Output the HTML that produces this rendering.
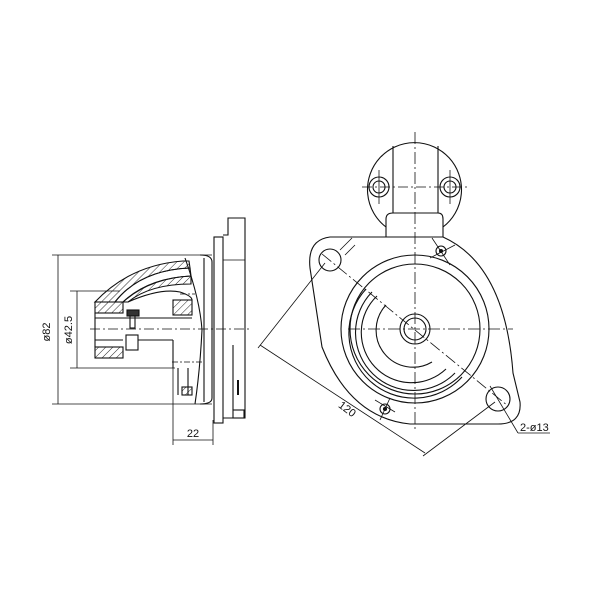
<!DOCTYPE html>
<html><head><meta charset="utf-8"><style>
html,body{margin:0;padding:0;background:#fff}
svg{display:block}
text{font-family:"Liberation Sans",sans-serif;fill:#111}
</style></head><body>
<svg width="600" height="600" viewBox="0 0 600 600" xmlns="http://www.w3.org/2000/svg">
<defs>
<pattern id="h" width="5" height="5" patternUnits="userSpaceOnUse" patternTransform="rotate(45)">
<line x1="0" y1="0" x2="0" y2="5" stroke="#111" stroke-width="0.9"/>
</pattern>
</defs>
<g fill="none" stroke="#111" stroke-width="1.1">
<!-- LEFT VIEW -->
<line x1="52" y1="255" x2="212" y2="255" stroke-width="0.8"/>
<line x1="52" y1="404" x2="212" y2="404" stroke-width="0.8"/>
<line x1="58" y1="255" x2="58" y2="404" stroke-width="0.8"/>
<line x1="70" y1="291" x2="120" y2="291" stroke-width="0.8"/>
<line x1="70" y1="368" x2="175" y2="368" stroke-width="0.8"/>
<line x1="77" y1="291" x2="77" y2="368" stroke-width="0.8"/>
<line x1="173" y1="360" x2="173" y2="445" stroke-width="0.8"/>
<line x1="213" y1="420" x2="213" y2="445" stroke-width="0.8"/>
<line x1="173" y1="440" x2="213" y2="440" stroke-width="0.8"/>
<!-- plate -->
<rect x="214" y="237" width="9" height="186"/>
<path d="M223 235 L228 235 L228 218 L245 218 L245 418 L223 418"/>
<line x1="223" y1="260" x2="245" y2="260" stroke-width="0.8"/>
<line x1="233" y1="345" x2="233" y2="410"/>
<rect x="233" y="410" width="11" height="8"/>
<line x1="238" y1="380" x2="238" y2="395" stroke-width="2"/>
<!-- housing -->
<path d="M200 255 Q212 255 212 262 L212 398 Q212 404 200 404"/>
<path d="M185 258 Q200 300 202 330 Q200 370 195 404"/>
<line x1="204" y1="258" x2="204" y2="402"/>
<!-- nose hatched -->
<path d="M95 302 Q130 265 183 261 L189 261 L190 268 Q140 270 115 302 Z" fill="url(#h)"/>
<path d="M115 302 Q140 270 190 268 L191 276 Q148 278 123 302 Z"/>
<path d="M123 302 Q150 278 191 276 L191 284 Q150 284 128 302 Z" fill="url(#h)"/>
<rect x="95" y="302" width="28" height="11" fill="url(#h)"/>
<path d="M128 302 Q160 288 180 292 Q192 296 192 300"/>
<rect x="173" y="300" width="19" height="15" fill="url(#h)"/>
<rect x="95" y="347" width="28" height="11" fill="url(#h)"/>
<line x1="95" y1="313" x2="95" y2="347"/>
<line x1="95" y1="318" x2="192" y2="318"/>
<line x1="95" y1="340" x2="123" y2="340"/>
<rect x="127" y="310" width="12" height="6" fill="#333"/>
<rect x="130" y="316" width="5" height="12"/>
<rect x="126" y="335" width="12" height="15"/>
<line x1="138" y1="340" x2="173" y2="340"/>
<line x1="173" y1="340" x2="173" y2="368"/>
<line x1="178" y1="368" x2="178" y2="395"/>
<line x1="188" y1="368" x2="188" y2="395"/>
<rect x="182" y="387" width="10" height="8" fill="url(#h)"/>
<line x1="180" y1="294" x2="195" y2="294" stroke-dasharray="6 2 2 2" stroke-width="0.8"/>
<line x1="172" y1="362" x2="202" y2="362" stroke-dasharray="6 2 2 2" stroke-width="0.8"/>
<line x1="90" y1="329" x2="252" y2="329" stroke-dasharray="10 3 2 3" stroke-width="0.8"/>

<!-- RIGHT VIEW -->
<path d="M386 227 A47 47 0 1 1 443 227"/>
<line x1="393" y1="146" x2="393" y2="213"/>
<line x1="438" y1="146" x2="438" y2="213"/>
<line x1="393" y1="213" x2="438" y2="213"/>
<path d="M386 237 L386 219 Q386 213 393 213 L438 213 Q443 213 443 219 L443 237"/>
<circle cx="379" cy="187" r="10"/><circle cx="379" cy="187" r="6"/>
<circle cx="450" cy="187" r="10"/><circle cx="450" cy="187" r="6"/>
<line x1="362" y1="187" x2="468" y2="187" stroke-dasharray="10 3 2 3" stroke-width="0.8"/>
<line x1="379" y1="170" x2="379" y2="204" stroke-width="0.8"/>
<line x1="450" y1="170" x2="450" y2="204" stroke-width="0.8"/>
<line x1="415" y1="132" x2="415" y2="430" stroke-dasharray="12 3 2 3" stroke-width="0.8"/>
<path d="M443 237 Q505 265 513 373 L520 402 Q522 424 498 424 L410 424 Q350 418 322 347 L310 268 Q307 240 330 237 Z"/>
<circle cx="330" cy="260" r="11"/>
<circle cx="498" cy="399" r="12"/>
<circle cx="441" cy="251" r="5"/><circle cx="385" cy="409" r="5"/>
<circle cx="441" cy="251" r="1.5" fill="#111"/><circle cx="385" cy="409" r="1.5" fill="#111"/>
<line x1="432" y1="238" x2="450" y2="265" stroke-width="0.8"/>
<line x1="430" y1="258" x2="455" y2="245" stroke-width="0.8"/>
<line x1="375" y1="400" x2="395" y2="412" stroke-width="0.8"/>
<line x1="380" y1="420" x2="390" y2="398" stroke-width="0.8"/>
<circle cx="415" cy="329" r="74"/>
<circle cx="415" cy="329" r="65"/>
<circle cx="415" cy="329" r="15"/>
<circle cx="415" cy="329" r="11"/>
<path d="M386 305 A37 37 0 0 0 432 362"/>
<path d="M377 296 A50 50 0 0 0 446 369"/>
<path d="M372 292 A57 57 0 0 0 455 373"/>
<path d="M366 289 A62 62 0 0 0 462 377"/>
<line x1="348" y1="329" x2="513" y2="329" stroke-dasharray="12 3 2 3" stroke-width="0.8"/>
<line x1="322" y1="254" x2="508" y2="406" stroke-dasharray="12 3 2 3" stroke-width="0.8"/>
<line x1="260" y1="345" x2="425" y2="453" stroke-width="0.8"/>
<line x1="258" y1="348" x2="325" y2="263" stroke-width="0.8"/>
<line x1="423" y1="456" x2="495" y2="402" stroke-width="0.8"/>
<line x1="490" y1="386" x2="518" y2="433" stroke-width="0.8"/>
<line x1="518" y1="433" x2="550" y2="433" stroke-width="0.8"/>
<line x1="340" y1="250" x2="352" y2="238" stroke-width="0.8"/>
<line x1="345" y1="255" x2="355" y2="245" stroke-width="0.8"/>
</g>
<text x="0" y="0" font-size="11" transform="translate(50 332) rotate(-90)" text-anchor="middle">ø82</text>
<text x="0" y="0" font-size="11" transform="translate(72 330) rotate(-90)" text-anchor="middle">ø42.5</text>
<text x="193" y="437" font-size="11" text-anchor="middle">22</text>
<text x="0" y="0" font-size="11" transform="translate(345 412) rotate(37)" text-anchor="middle">120</text>
<text x="520" y="431" font-size="11">2-ø13</text>
</svg>
</body></html>
